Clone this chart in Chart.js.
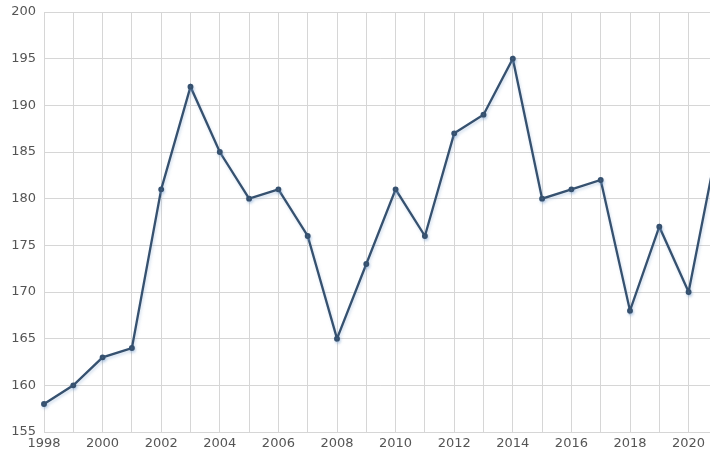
<!DOCTYPE html>
<html><head><meta charset="utf-8">
<script src="https://cdn.jsdelivr.net/npm/chart.js@4"></script>
<style>
html,body{margin:0;padding:0;background:#fff;overflow:hidden;}
#wrap{width:722px;height:454px;}
</style></head>
<body>
<div id="wrap"><canvas id="c" width="722" height="454"></canvas></div>
<script>
const years = [1998,1999,2000,2001,2002,2003,2004,2005,2006,2007,2008,2009,2010,2011,2012,2013,2014,2015,2016,2017,2018,2019,2020,2021];
const values = [158,160,163,164,181,192,185,180,181,176,165,173,181,176,187,189,195,180,181,182,168,177,170,186];
const yTicks = [155,160,165,170,175,180,185,190,195,200];

const shadowPlugin = {
  id: 'shadow',
  beforeDatasetDraw(chart){ const c=chart.ctx; c.save(); c.shadowColor='rgba(120,160,210,0.35)'; c.shadowBlur=3; c.shadowOffsetX=1; c.shadowOffsetY=2; },
  afterDatasetDraw(chart){ chart.ctx.restore(); }
};

new Chart(document.getElementById('c'), {
  type: 'line',
  data: { labels: years.map(String), datasets: [{
    data: values, borderColor: '#36516f', backgroundColor: '#36516f', borderWidth: 2.3,
    pointRadius: 1.8, pointHoverRadius: 1.8, tension: 0, fill: false
  }]},
  options: {
    responsive: false, animation: false,
    layout: { padding: { top: 12, right: 3, left: 0, bottom: 0 } },
    plugins: { legend: { display: false }, tooltip: { enabled: false } },
    scales: {
      x: {
        grid: { color: '#d6d6d6', drawTicks: false, lineWidth: 1 },
        border: { display: false },
        ticks: { autoSkip: false, maxRotation: 0, padding: 4, color: '#555', font: { family: 'DejaVu Sans', size: 13 },
          callback: (v, i) => (years[i] % 2 === 0 ? String(years[i]) : '') },
        afterFit: s => { s.height = 22; }
      },
      y: {
        min: yTicks[0], max: yTicks[yTicks.length-1],
        afterBuildTicks: s => { s.ticks = yTicks.map(v => ({ value: v })); },
        grid: { color: '#d6d6d6', drawTicks: false, lineWidth: 1 },
        border: { display: false },
        ticks: { padding: 8, color: '#555', font: { family: 'DejaVu Sans', size: 13 } },
        afterFit: s => { s.width = 44; s.paddingTop = 0; s.paddingBottom = 0; }
      }
    }
  },
  plugins: [shadowPlugin]
});
</script>
</body></html>
